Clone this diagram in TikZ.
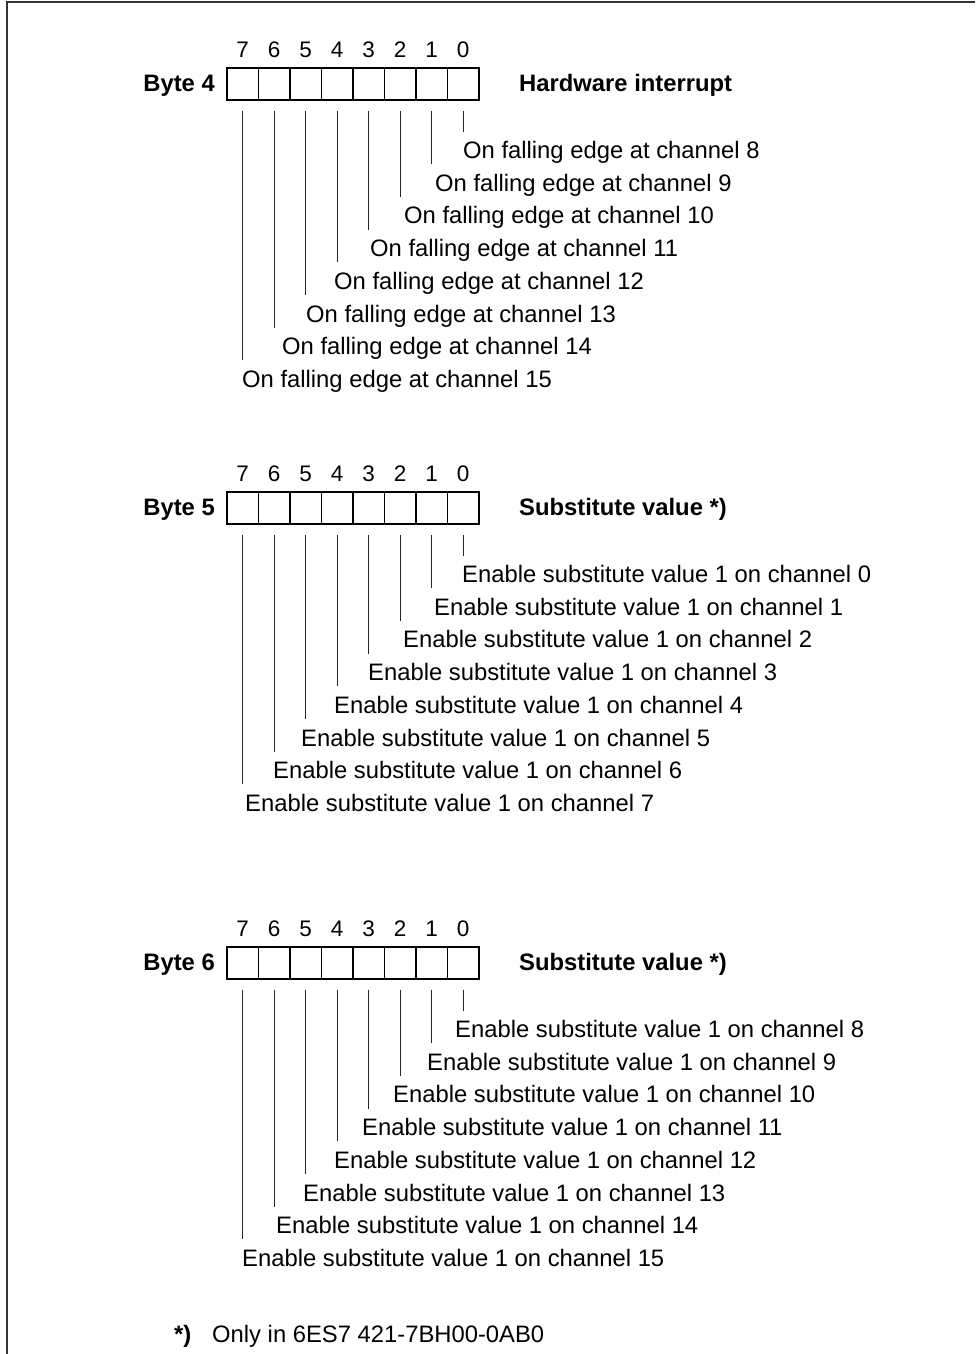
\documentclass[tikz,border=0pt]{standalone}
\usepackage{fontspec}
\setmainfont{Liberation Sans}
\usetikzlibrary{calc}

\begin{document}
\begin{tikzpicture}[x=1pt, y=-1pt,
    cell/.style={draw, line width=1.5pt, minimum width=31.5pt, minimum height=32pt, inner sep=0pt},
    bitno/.style={anchor=base, inner sep=0pt, font=\fontsize{22.5}{26}\selectfont},
    lbl/.style={anchor=base east, inner sep=0pt, font=\fontsize{23.8}{28}\selectfont\bfseries},
    title/.style={anchor=base west, inner sep=0pt, font=\fontsize{23.8}{28}\selectfont\bfseries},
    desc/.style={anchor=base west, inner sep=0pt, font=\fontsize{23.8}{28}\selectfont},
    tick/.style={black!85, line width=1pt}]
  \useasboundingbox (0,0) rectangle (975,1354);
  % Frame
  \draw[black!80, line width=2pt] (7,1354) -- (7,2) -- (975,2);

  % Byte 4
  \begin{scope}
    \foreach \b in {0,...,7} {
      \node[cell] (c4b\b) at ({242.75+31.5*(7-\b)},84) {};
      \node[bitno] (n4b\b) at ({242.75+31.5*(7-\b)},57) {\b};
    }
    \node[lbl] (byte4) at (215,91) {Byte 4};
    \node[title] (head4) at (519,91) {Hardware interrupt};
    \foreach \tx [count=\i from 0] in {463,435,404,370,334,306,282,242} {
      \pgfmathtruncatemacro\ch{\i+8}
      \node[desc] (d4b\i) at (\tx,{158.5+32.7*\i}) {On falling edge at channel \ch};
      \draw[tick] ([yshift=-10pt]c4b\i.south) -- ($(c4b\i.south |- d4b\i.north)+(0,-9.5)$);
    }
  \end{scope}

  % Byte 5
  \begin{scope}[shift={(0,424)}]
    \foreach \b in {0,...,7} {
      \node[cell] (c5b\b) at ({242.75+31.5*(7-\b)},84) {};
      \node[bitno] (n5b\b) at ({242.75+31.5*(7-\b)},57) {\b};
    }
    \node[lbl] (byte5) at (215,91) {Byte 5};
    \node[title] (head5) at (519,91) {Substitute value *)};
    \foreach \tx [count=\i from 0] in {462,434,403,368,334,301,273,245} {
      \node[desc] (d5b\i) at (\tx,{158.5+32.7*\i}) {Enable substitute value 1 on channel \i};
      \draw[tick] ([yshift=-10pt]c5b\i.south) -- ($(c5b\i.south |- d5b\i.north)+(0,-9.5)$);
    }
  \end{scope}

  % Byte 6
  \begin{scope}[shift={(0,879)}]
    \foreach \b in {0,...,7} {
      \node[cell] (c6b\b) at ({242.75+31.5*(7-\b)},84) {};
      \node[bitno] (n6b\b) at ({242.75+31.5*(7-\b)},57) {\b};
    }
    \node[lbl] (byte6) at (215,91) {Byte 6};
    \node[title] (head6) at (519,91) {Substitute value *)};
    \foreach \tx [count=\i from 0] in {455,427,393,362,334,303,276,242} {
      \pgfmathtruncatemacro\ch{\i+8}
      \node[desc] (d6b\i) at (\tx,{158.5+32.7*\i}) {Enable substitute value 1 on channel \ch};
      \draw[tick] ([yshift=-10pt]c6b\i.south) -- ($(c6b\i.south |- d6b\i.north)+(0,-9.5)$);
    }
  \end{scope}

  % Footnote
  \node[title] (star) at (174,1342) {*)};
  \node[desc] (note) at (212,1342) {Only in 6ES7 421-7BH00-0AB0};
\end{tikzpicture}
\end{document}
